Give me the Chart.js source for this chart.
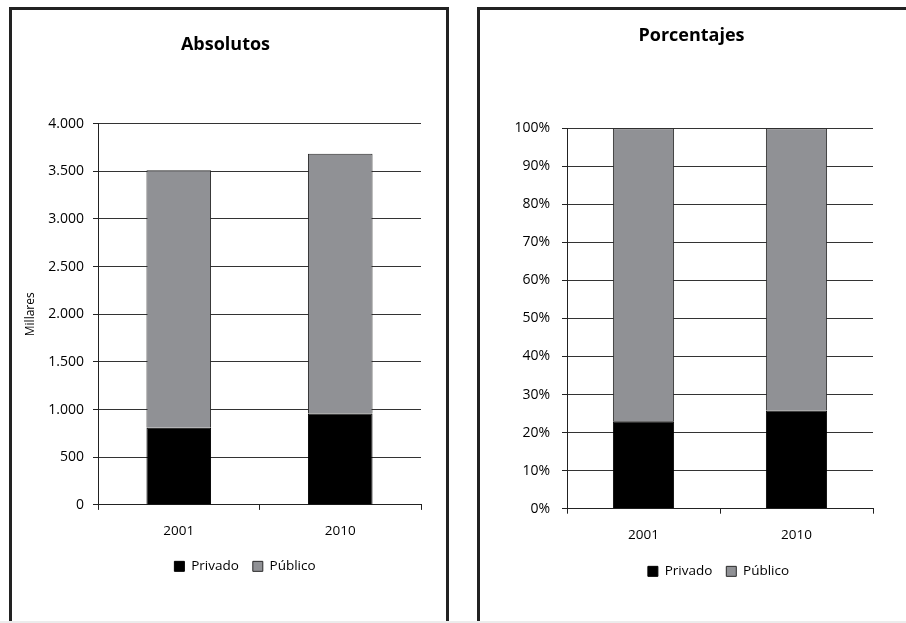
<!DOCTYPE html>
<html lang="es">
<head>
<meta charset="utf-8">
<title>Absolutos y porcentajes</title>
<script src="https://cdn.jsdelivr.net/npm/chart.js@4/dist/chart.umd.min.js"></script>
<style>
  html, body { margin: 0; padding: 0; background: #fff; overflow: hidden; }
  body { width: 906px; height: 623px; position: relative; }
  .panel { position: absolute; border: 3px solid #222; box-sizing: border-box; }
  #panelA { left: 9px; top: 7px; width: 440px; height: 640px; }
  #panelB { left: 477px; top: 7px; width: 460px; height: 640px; }
  canvas { position: absolute; }
  #absCanvas { left: 12px; top: 10px; }
  #pctCanvas { left: 480px; top: 10px; }
  #foot { position: absolute; left: 0; top: 621px; width: 906px; height: 2px; background: #ececec; }
</style>
</head>
<body>
<div class="panel" id="panelA"></div>
<div class="panel" id="panelB"></div>
<canvas id="absCanvas" width="465" height="611"></canvas>
<canvas id="pctCanvas" width="476" height="611"></canvas>
<div id="foot"></div>
<script>
// Categories and series
const categories = ['2001', '2010'];
const seriesNames = ['Privado', 'Público'];

// Absolute values, thousands
const privadoMiles = [810, 960];
const publicoMiles = [2700, 2725];

// Shares, percent
const privadoPct = [23.0, 25.8];
const publicoPct = [77.0, 74.2];

// Axis ranges
const absAxis = { min: 0, max: 4000, step: 500 };
const pctAxis = { min: 0, max: 100, step: 10 };

const FONT = "'Open Sans', 'DejaVu Sans', sans-serif";
const INK = '#000000';
const BLACK = '#000000';
const GREY = '#909195';

Chart.defaults.font.family = FONT;
Chart.defaults.color = INK;

// Nudges the title and legend boxes after layout so each sits where the page wants it
const boxShift = {
  id: 'boxShift',
  afterLayout(chart, args, opts) {
    const t = chart.titleBlock;
    const l = chart.legend;
    if (t) {
      t.left += opts.titleDx || 0; t.right += opts.titleDx || 0;
    }
    if (l) {
      l.left += opts.legendDx || 0; l.right += opts.legendDx || 0;
      l.top += opts.legendDy || 0; l.bottom += opts.legendDy || 0;
    }
  }
};

function miles(v) {
  return String(v).replace(/\B(?=(\d{3})+(?!\d))/g, '.');
}

function datasets(priv, pub) {
  return [
    { label: seriesNames[0], data: priv, backgroundColor: BLACK, borderColor: BLACK, borderWidth: 1,
      categoryPercentage: 1.0, barPercentage: 0.40 },
    { label: seriesNames[1], data: pub, backgroundColor: GREY, borderColor: '#2a2a2a', borderWidth: 1,
      categoryPercentage: 1.0, barPercentage: 0.40 }
  ];
}

function baseOptions(cfg) {
  return {
    responsive: false,
    animation: false,
    devicePixelRatio: 1,
    layout: { padding: { left: 0, right: cfg.padRight, top: 0, bottom: cfg.padBottom } },
    plugins: {
      tooltip: { enabled: false },
      boxShift: { titleDx: cfg.titleDx, legendDx: cfg.legendDx, legendDy: cfg.legendDy },
      title: {
        display: true,
        text: cfg.title,
        color: INK,
        font: { family: FONT, size: 18, weight: 'bold' },
        padding: { top: cfg.titleTop, bottom: cfg.titleBottom }
      },
      legend: {
        position: 'bottom',
        labels: {
          boxWidth: 10, boxHeight: 10, padding: 14,
          color: INK, font: { family: FONT, size: 13.5 }
        }
      }
    },
    scales: {
      x: {
        stacked: true,
        border: { display: true, color: '#222', width: 1 },
        grid: {
          offset: true,
          drawOnChartArea: cfg.rightEdge,
          color: (ctx) => (cfg.rightEdge && ctx.index === categories.length) ? '#6f6f6f' : 'rgba(0,0,0,0)',
          tickColor: '#222',
          tickLength: 5
        },
        ticks: { color: INK, font: { family: FONT, size: 13.5 }, padding: 13, maxRotation: 0 }
      },
      y: {
        stacked: true,
        min: cfg.axis.min, max: cfg.axis.max,
        border: { display: true, color: '#222', width: 1 },
        grid: { color: '#333', tickColor: '#222', tickLength: 5, lineWidth: 1 },
        ticks: {
          stepSize: cfg.axis.step, padding: cfg.tickPad, color: INK,
          font: { family: FONT, size: 14 },
          callback: cfg.format
        },
        title: cfg.yTitle ? {
          display: true, text: cfg.yTitle, color: INK,
          font: { family: FONT, size: 12 }, padding: { top: 11, bottom: 0 }
        } : { display: false },
        afterFit: (scale) => { scale.width = cfg.yWidth; }
      }
    }
  };
}

new Chart(document.getElementById('absCanvas'), {
  type: 'bar',
  data: { labels: categories, datasets: datasets(privadoMiles, publicoMiles) },
  options: baseOptions({
    title: 'Absolutos', titleTop: 24, titleBottom: 68, titleDx: 9,
    padRight: 56, padBottom: 31.4, legendDx: 28.5, legendDy: -6.5,
    axis: absAxis, tickPad: 9, yWidth: 86, yTitle: 'Millares',
    rightEdge: false, format: (v) => miles(v)
  }),
  plugins: [boxShift]
});

new Chart(document.getElementById('pctCanvas'), {
  type: 'bar',
  data: { labels: categories, datasets: datasets(privadoPct, publicoPct) },
  options: baseOptions({
    title: 'Porcentajes', titleTop: 15, titleBottom: 81.6, titleDx: 15,
    padRight: 83, padBottom: 27.6, legendDx: 42, legendDy: -5.3,
    axis: pctAxis, tickPad: 12, yWidth: 87, yTitle: null,
    rightEdge: true, format: (v) => v + '%'
  }),
  plugins: [boxShift]
});
</script>
</body>
</html>
